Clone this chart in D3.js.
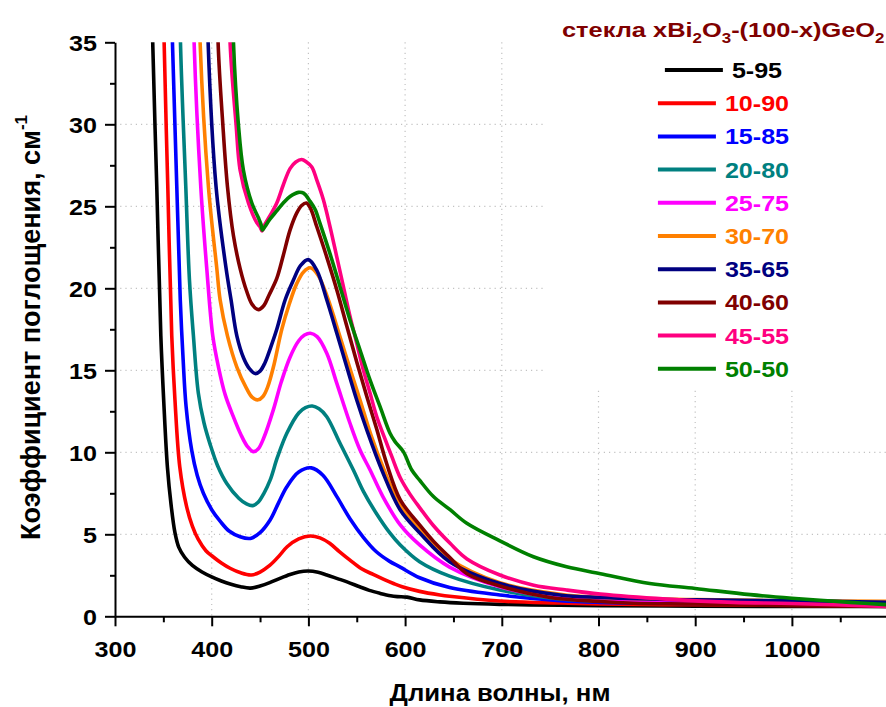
<!DOCTYPE html>
<html>
<head>
<meta charset="utf-8">
<script src="https://cdn.jsdelivr.net/npm/d3@7"></script>
<style>
  body { margin: 0; background: #fff; }
  svg text { font-family: "Liberation Sans", Arial, sans-serif; font-weight: bold; }
</style>
</head>
<body>
<svg id="chart" width="886" height="707"></svg>
<script>
// Absorption spectra of xBi2O3-(100-x)GeO2 glasses: [wavelength nm, coefficient cm^-1]
const seriesLabels = ["5-95", "10-90", "15-85", "20-80", "25-75", "30-70", "35-65", "40-60", "45-55", "50-50"];

const s5_95 = [[336,45],[339,35],[343.2,26.2],[347.4,17.1],[350.5,13.0],[354.2,9.1],[358,6.8],[362,5.1],[366,4.2],[372,3.6],[380,3.1],[390,2.7],[400,2.4],[410,2.15],[420,1.95],[430,1.8],[440,1.72],[450,1.85],[460,2.05],[470,2.3],[481,2.55],[490,2.7],[500,2.76],[510,2.68],[519,2.52],[530,2.3],[540,2.1],[553,1.8],[563,1.58],[574,1.4],[585,1.25],[592,1.2],[602,1.17],[615,1.0],[636,0.88],[660,0.8],[698,0.73],[760,0.67],[802,0.65],[900,0.62],[1000,0.6],[1100,0.6]];
const s10_90 = [[348,45],[350.8,35],[354.6,26.2],[358.7,17.1],[362,13.2],[367,9.1],[374,6.7],[380,5.5],[386,4.7],[394,4.0],[402,3.6],[410,3.25],[419,2.93],[430,2.65],[441,2.52],[450,2.7],[460,3.1],[470,3.7],[478,4.24],[490,4.72],[502,4.9],[512,4.78],[522,4.45],[532,3.95],[543,3.43],[555,2.9],[567,2.55],[578,2.25],[588,2.0],[597,1.8],[615,1.52],[636,1.3],[646,1.22],[698,0.93],[760,0.81],[802,0.75],[900,0.7],[1000,0.68],[1100,0.65]];
const s15_85 = [[356.5,45],[359.4,35],[363.9,26.2],[367.5,19.3],[370.5,15.6],[373.5,12.8],[379.4,10.1],[385,8.6],[391.4,7.5],[400,6.5],[408.7,5.8],[418,5.2],[429.4,4.85],[440,4.75],[450,5.1],[460.4,5.87],[469,6.9],[477.7,7.9],[490,8.8],[503,9.05],[515,8.6],[529.4,7.3],[543,5.95],[557,4.8],[570,3.95],[584,3.35],[595,3.0],[615,2.35],[646,1.75],[698,1.3],[760,0.95],[802,0.85],[900,0.78],[1000,0.72],[1100,0.7]];
const s20_80 = [[365,45],[367.7,35],[373.2,26.2],[377,20.5],[381.1,17.1],[386.2,13.6],[392,11.8],[398.3,10.5],[406,9.2],[415.6,8.1],[428,7.2],[436,6.85],[442.5,6.75],[448,6.95],[454,7.5],[460.4,8.3],[468,9.7],[477.7,11.16],[490,12.4],[497,12.72],[504,12.82],[511,12.65],[519,12.17],[532.7,10.55],[546.5,8.92],[557,7.6],[570,6.3],[584,5.1],[595,4.35],[615,3.33],[646,2.45],[698,1.6],[760,1.05],[802,0.92],[900,0.8],[1000,0.72],[1100,0.66]];
const s25_75 = [[379,45],[381.8,35],[388.7,26.2],[394.9,21.2],[401.1,17.1],[407,15.2],[414,13.5],[422.4,12.17],[430,11.1],[437,10.35],[443,10.04],[448,10.2],[454,10.9],[463.8,12.6],[472,14.3],[481,15.8],[490,16.8],[496,17.15],[502,17.26],[509,17.05],[519,16.04],[529.4,14.2],[543,11.77],[553.4,10.14],[563.8,8.92],[577,7.3],[595,5.57],[615,4.35],[646,3.0],[698,1.8],[760,1.1],[802,0.98],[900,0.85],[1000,0.75],[1100,0.68]];
const s30_70 = [[385,45],[388,35],[396.6,26.2],[405.3,21.2],[408.7,19.3],[416.3,17.1],[426,15.2],[436,13.9],[442,13.35],[448,13.2],[453,13.4],[458,14.0],[463.8,15.2],[472.5,17.5],[480,19.0],[488,20.3],[495,21.0],[502,21.25],[510,20.8],[520,19.4],[532.7,17.05],[543,15.1],[553.4,13.19],[565,11.0],[578.3,8.92],[595,6.75],[615,5.3],[646,3.5],[698,2.05],[760,1.35],[802,1.15],[900,1.02],[1000,0.95],[1100,0.92]];
const s35_65 = [[393.5,45],[396.3,35],[404.5,26.2],[414.9,21.2],[420,19.3],[426,17.1],[433,15.75],[439,15.1],[445,14.8],[450,14.95],[455,15.45],[461,16.4],[467.3,17.5],[476,19.3],[484.5,20.5],[492,21.4],[500,21.75],[508.7,21.1],[519,19.3],[529.4,17.26],[539.7,15.2],[550,13.19],[560.4,11.36],[575.9,8.92],[595,6.48],[615,5.1],[646,3.33],[698,2.0],[760,1.3],[802,1.15],[900,1.0],[1000,0.95],[1100,0.85]];
const s40_60 = [[404,45],[406.6,35],[411.5,30],[416.3,26.2],[422.5,23.2],[429.4,21.2],[436,19.85],[442,19.0],[448.3,18.7],[454,18.95],[459,19.55],[467.3,20.6],[474,22.0],[481,23.55],[488,24.6],[493,25.05],[498,25.2],[502,24.9],[508.7,23.75],[519,21.9],[529.4,19.9],[539.7,17.7],[550,15.5],[560.4,13.4],[570.7,11.4],[581,9.3],[595,7.1],[615,5.57],[629,4.6],[646,3.6],[664,2.6],[698,1.85],[750,1.15],[802,0.9],[836,0.8],[900,0.75],[1000,0.65],[1100,0.6]];
const s45_55 = [[416,45],[419,35],[425.2,30],[429.4,27.2],[438,25.2],[446.6,24.0],[450,23.75],[452,23.5],[455,23.9],[460,24.4],[467.3,25.2],[474,26.3],[481,27.3],[487,27.7],[493,27.85],[498,27.7],[503.5,27.4],[508.7,26.6],[515.5,25.4],[522.4,23.75],[529.4,21.9],[536.2,20.1],[543.1,18.27],[550,16.65],[556.9,15.0],[563.8,13.6],[570.7,12.17],[579.3,10.8],[586.2,9.75],[595,8.45],[605,7.45],[615.4,6.6],[629,5.55],[646.5,4.45],[664,3.5],[698,2.52],[733,1.9],[767,1.6],[802,1.35],[870,1.05],[940,0.85],[1000,0.78],[1100,0.6]];
const s50_50 = [[419.5,45],[422.5,35],[427.6,30],[432.8,27.2],[441.5,25.2],[448.3,24.3],[451,23.9],[452.5,23.55],[455,23.75],[460,24.2],[467,24.7],[474,25.2],[481,25.6],[489.7,25.85],[495,25.8],[501.8,25.3],[507,24.8],[512,23.96],[522.4,22.1],[532.7,20.1],[543,18.07],[553.4,16.24],[563.8,14.4],[574.1,12.78],[584.4,11.16],[589.6,10.65],[598.2,10.04],[606.9,8.92],[615,8.3],[629.3,7.3],[646.5,6.5],[663.8,5.67],[698,4.6],[732.7,3.63],[767,3.02],[802,2.6],[853,2.0],[900,1.7],[957,1.32],[1000,1.1],[1060,0.85],[1100,0.7]];

const seriesData = [s5_95, s10_90, s15_85, s20_80, s25_75, s30_70, s35_65, s40_60, s45_55, s50_50];

const xTickValues = [300, 400, 500, 600, 700, 800, 900, 1000];
const xMinorValues = [350, 450, 550, 650, 750, 850, 950, 1050];
const yTickValues = [0, 5, 10, 15, 20, 25, 30, 35];
const yMinorValues = [2.5, 7.5, 12.5, 17.5, 22.5, 27.5, 32.5];

const seriesColors = ["#000000", "#ff0000", "#0000ff", "#008080", "#ff00ff", "#ff8000", "#000080", "#800000", "#ff0080", "#008000"];

const svg = d3.select("#chart");
const FONT = "'Liberation Sans', Arial, sans-serif";

const x = d3.scaleLinear().domain([300, 1100]).range([115, 888.6]);
const y = d3.scaleLinear().domain([0, 35]).range([616.3, 42.3]);

// dotted grid
const grid = svg.append("g").attr("stroke", "#c2c2c2").attr("stroke-width", 1.2).attr("stroke-dasharray", "1.2,4");
grid.selectAll("line.h").data(yTickValues.filter(v => v > 0 && v < 35)).join("line")
  .attr("x1", x(300)).attr("x2", x(1100)).attr("y1", d => y(d)).attr("y2", d => y(d));
grid.selectAll("line.v").data(xTickValues.filter(v => v > 300)).join("line")
  .attr("x1", d => x(d)).attr("x2", d => x(d)).attr("y1", y(35)).attr("y2", y(0));

// legend backdrop hides the grid underneath
svg.append("rect").attr("x", 543).attr("y", 0).attr("width", 343).attr("height", 389).attr("fill", "#fff");

// curves
svg.append("clipPath").attr("id", "plotclip").append("rect")
  .attr("x", x(300)).attr("y", y(35)).attr("width", x(1100) - x(300)).attr("height", y(0) - y(35));
const line = d3.line().x(d => x(d[0])).y(d => y(d[1])).curve(d3.curveCatmullRom.alpha(0.5));
svg.append("g").attr("clip-path", "url(#plotclip)")
  .selectAll("path").data(seriesData).join("path")
  .attr("d", line).attr("fill", "none")
  .attr("stroke", (d, i) => seriesColors[i])
  .attr("stroke-width", 3.6).attr("stroke-linejoin", "round").attr("stroke-linecap", "round");

// axes
function styleAxis(g) {
  g.attr("font-family", FONT).attr("font-size", 21.5).attr("font-weight", "bold");
  g.selectAll("path, line").attr("stroke", "#000").attr("stroke-width", 2);
}
const gx = svg.append("g").attr("transform", `translate(0,${y(0)})`)
  .call(d3.axisBottom(x).tickValues(xTickValues).tickSize(10).tickSizeOuter(0).tickFormat(d3.format("d")));
styleAxis(gx);
gx.selectAll("text").attr("y", 40.6).attr("dy", null).attr("transform", "scale(1.17,1)");

const gxm = svg.append("g").attr("transform", `translate(0,${y(0)})`)
  .call(d3.axisBottom(x).tickValues(xMinorValues).tickSize(6).tickFormat(""));
styleAxis(gxm); gxm.select(".domain").remove();

const gy = svg.append("g").attr("transform", `translate(${x(300)},0)`)
  .call(d3.axisLeft(y).tickValues(yTickValues).tickSize(10).tickPadding(8).tickSizeOuter(0));
styleAxis(gy);
gy.selectAll("text").attr("dy", "0.36em").attr("transform", "translate(-18,0) scale(1.17,1) translate(18,0)");

const gym = svg.append("g").attr("transform", `translate(${x(300)},0)`)
  .call(d3.axisLeft(y).tickValues(yMinorValues).tickSize(5).tickFormat(""));
styleAxis(gym); gym.select(".domain").remove();

// x axis title
const xt = svg.append("text").attr("font-size", 23).attr("text-anchor", "middle")
  .attr("x", 0).attr("y", 0).text("Длина волны, нм");
{
  const w = xt.node().getBBox().width;
  xt.attr("transform", `translate(500,701) scale(${221 / w},1)`);
}

// y axis title
const yt = svg.append("text").attr("font-size", 24).attr("text-anchor", "middle").attr("x", 0).attr("y", 0);
yt.append("tspan").text("Коэффициент поглощения, см");
yt.append("tspan").attr("font-size", 15).attr("dy", -11).text("-1");
{
  const b = yt.node().getBBox();
  const sx = 425 / b.width;
  const cx = b.x + b.width / 2;
  yt.attr("transform", `translate(39.5,327.5) rotate(-90) scale(${sx},1.12) translate(${-cx},0)`);
}

// legend title
const lt = svg.append("text").attr("font-size", 21).attr("fill", "#800000").attr("x", 0).attr("y", 0);
lt.append("tspan").text("стекла xBi");
lt.append("tspan").attr("font-size", 14).attr("dy", 6).text("2");
lt.append("tspan").attr("dy", -6).text("O");
lt.append("tspan").attr("font-size", 14).attr("dy", 6).text("3");
lt.append("tspan").attr("dy", -6).text("-(100-x)GeO");
lt.append("tspan").attr("font-size", 14).attr("dy", 6).text("2");
{
  const w = lt.node().getBBox().width;
  lt.attr("transform", `translate(562,37) scale(${323 / w},1)`);
}

// legend entries, each centred on one column
const legendCenter = 723.5, swatch = 58, gap = 9, labelScale = 1.14;
seriesLabels.forEach((lab, i) => {
  const cy = 70 + i * 33.2;
  const t = svg.append("text").attr("font-size", 22).attr("fill", seriesColors[i]).attr("x", 0).attr("y", 0).text(lab);
  const w = t.node().getBBox().width * labelScale;
  const start = legendCenter - (swatch + gap + w) / 2;
  svg.append("line").attr("x1", start).attr("x2", start + swatch).attr("y1", cy).attr("y2", cy)
    .attr("stroke", seriesColors[i]).attr("stroke-width", 4);
  t.attr("transform", `translate(${start + swatch + gap},${cy + 8}) scale(${labelScale},1)`);
});
</script>
</body>
</html>
